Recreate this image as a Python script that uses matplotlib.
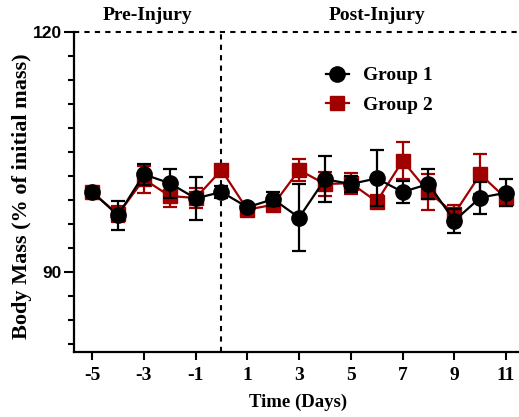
import numpy as np
import matplotlib.pyplot as plt
from matplotlib.lines import Line2D

# data
days = [-5, -4, -3, -2, -1, 0, 1, 2, 3, 4, 5, 6, 7, 8, 9, 10, 11]
g1_mean = [100.0, 97.1, 102.2, 101.1, 99.2, 100.0, 98.1, 99.1, 96.8, 101.6, 101.0, 101.7, 100.0, 101.0, 96.4, 99.3, 99.9]
g1_err = [0.4, 1.8, 1.3, 1.8, 2.7, 0.8, 0.5, 0.9, 4.2, 2.9, 1.0, 3.5, 1.4, 1.9, 1.5, 2.0, 1.7]
g2_mean = [100.0, 97.2, 101.6, 99.5, 99.25, 102.75, 97.8, 98.4, 102.75, 101.0, 101.1, 98.8, 103.9, 100.0, 97.3, 102.2, 99.2]
g2_err = [0.5, 1.0, 1.7, 1.4, 1.2, 0.5, 0.5, 0.5, 1.4, 1.5, 1.3, 0.8, 2.3, 2.3, 1.1, 2.5, 1.0]

xticks = [-5, -3, -1, 1, 3, 5, 7, 9, 11]
red = '#A00000'
serif = 'Liberation Serif'

fig = plt.figure(figsize=(5.19, 4.17), dpi=100)
W, H = 519, 417
aw = 532 - 74
ax = fig.add_axes([74 / W, 1 - 352 / H, aw / W, (352 - 32) / H])

ax.errorbar(days, g2_mean, yerr=g2_err, color=red, marker='s', markersize=10,
            linewidth=1.6, elinewidth=1.6, capsize=5, capthick=1.6, zorder=3)
ax.errorbar(days, g1_mean, yerr=g1_err, color='black', marker='o', markersize=11,
            linewidth=1.6, elinewidth=1.6, capsize=5, capthick=1.6, zorder=4)

# injury markers
ax.axvline(0, color='black', linestyle=(0, (2.5, 2.5)), linewidth=1.5, zorder=2)
ax.axhline(120, color='black', linestyle=(0, (2.5, 2.5)), linewidth=1.5, clip_on=False, zorder=2)

ax.set_xlim(-5.7, 12)
ax.set_ylim(80, 120)
ax.set_yticks([90, 120])
ax.set_yticks(np.arange(81, 120, 3), minor=True)
ax.set_xticks(xticks)
ax.set_xticklabels([str(t) for t in xticks], fontfamily=serif, fontweight='bold', fontsize=14)
ax.set_yticklabels(['90', '120'], fontfamily='Liberation Sans', fontweight='bold', fontsize=12.5)
ax.tick_params(axis='y', which='major', length=7, width=1.5, pad=2)
ax.tick_params(axis='y', which='minor', length=4, width=1.5)
ax.tick_params(axis='x', which='major', length=6, width=1.5, pad=5)

for s in ['top', 'right']:
    ax.spines[s].set_visible(False)
for s in ['left', 'bottom']:
    ax.spines[s].set_linewidth(1.6)

ax.text(-2.85, 122, 'Pre-Injury', ha='center', va='center', fontfamily=serif,
        fontweight='bold', fontsize=14)
ax.text(6, 122, 'Post-Injury', ha='center', va='center', fontfamily=serif,
        fontweight='bold', fontsize=14)

ax.set_xlabel('Time (Days)', fontfamily=serif, fontweight='bold', fontsize=13.5)
ax.set_ylabel('Body Mass (% of initial mass)', fontfamily=serif, fontweight='bold', fontsize=16)
ax.xaxis.set_label_coords((298.5 - 74) / aw, (352 - 394) / 320)
ax.yaxis.set_label_coords((32 - 74) / aw, (352 - 196) / 320)

handles = [
    Line2D([], [], color='black', marker='o', markersize=11, linewidth=1.6),
    Line2D([], [], color=red, marker='s', markersize=10, linewidth=1.6),
]
ax.legend(handles, ['Group 1', 'Group 2'], loc='upper left',
          bbox_to_anchor=((318 - 74) / aw, (352 - 59) / 320),
          borderaxespad=0, frameon=False, handlelength=1.2, labelspacing=0.6, handletextpad=0.7,
          prop={'family': serif, 'weight': 'bold', 'size': 14})

fig.savefig('out.png', dpi=100)
